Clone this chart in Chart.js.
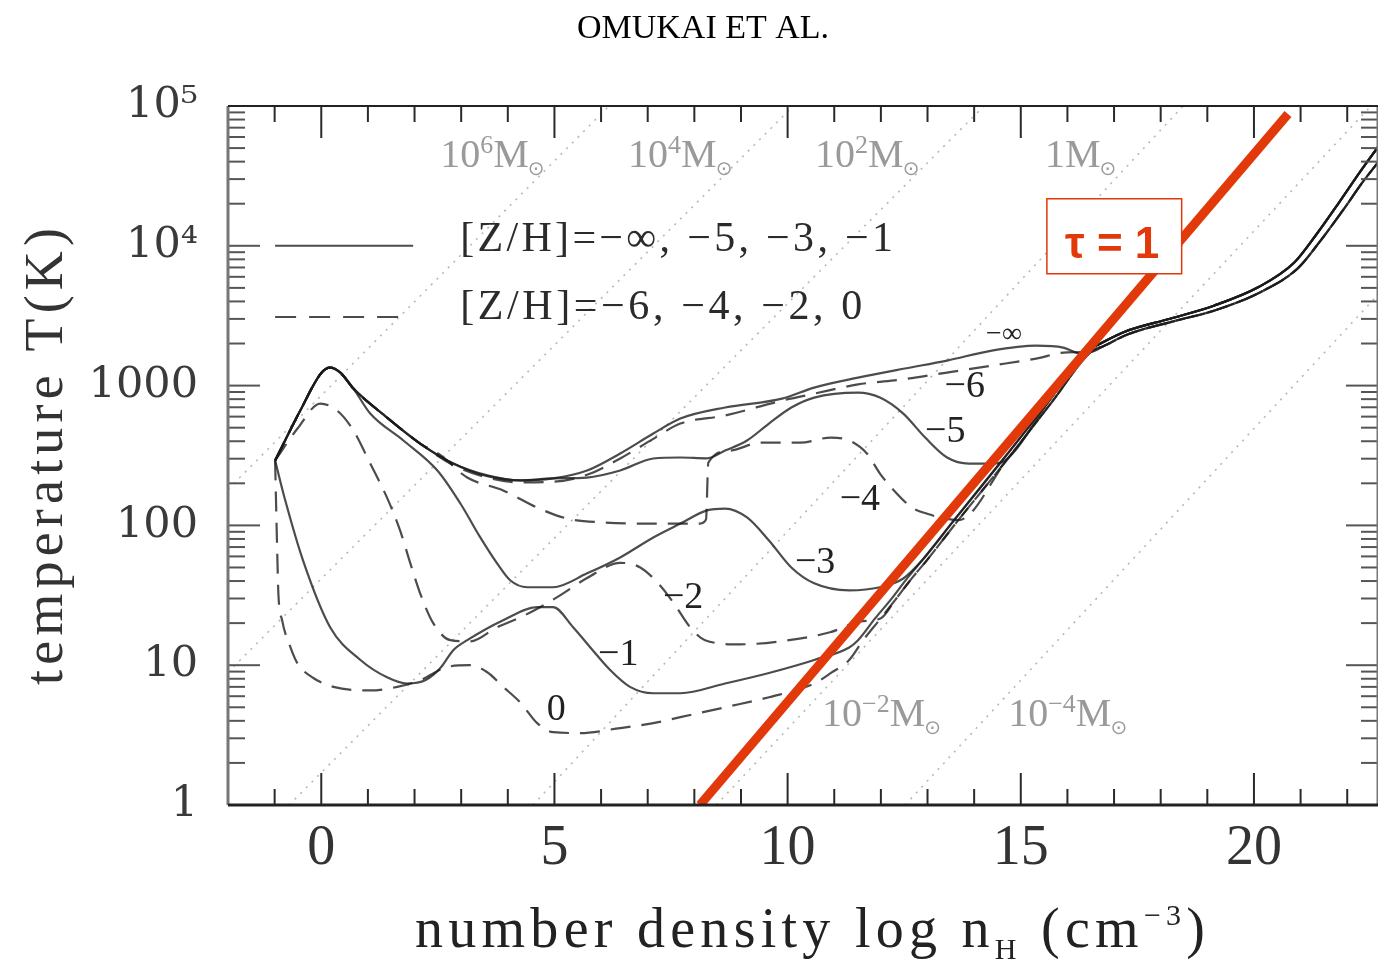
<!DOCTYPE html>
<html>
<head>
<meta charset="utf-8">
<script src="https://cdn.jsdelivr.net/npm/chart.js@4"></script>
<style>
  html, body { margin: 0; padding: 0; background: #fff; }
</style>
</head>
<body>
<canvas id="theChart" width="1378" height="964"></canvas>
<script>
'use strict';

// values: x = log nH (cm^-3), y = T (K)

let xTickValues = [0, 5, 10, 15, 20];
let yTickValues = [1, 10, 100, 1000, 1e4, 1e5];
let yTickLabels = ['1', '10', '100', '1000', '10⁴', '10⁵'];

// metallicity tracks [log nH, T] up to where they fall onto the adiabatic band
let zNegInf = [[-0.99, 291], [-0.45, 663], [0.0, 1230], [0.19, 1345], [0.41, 1240], [0.69, 952], [1.41, 591], [2.12, 385], [2.83, 277], [3.56, 228], [4.27, 210], [4.97, 217], [5.70, 247], [6.41, 327], [7.12, 454], [7.70, 581], [8.66, 697], [9.88, 807], [10.57, 968], [11.51, 1140], [12.48, 1320], [13.42, 1510], [14.38, 1780], [15.33, 1930], [15.91, 1870], [16.29, 1690]];
let zNeg6 = [[-0.99, 291], [-0.45, 663], [0.0, 1230], [0.19, 1345], [0.41, 1240], [0.69, 952], [1.41, 591], [2.12, 385], [2.83, 270], [3.56, 220], [4.27, 203], [4.97, 205], [5.70, 230], [6.41, 301], [7.12, 416], [7.70, 535], [8.66, 611], [9.88, 781], [10.57, 876], [11.51, 1020], [12.48, 1110], [13.42, 1240], [14.38, 1390], [15.33, 1560], [15.99, 1730]];
let zNeg5 = [[-0.99, 291], [-0.45, 663], [0.0, 1230], [0.19, 1345], [0.41, 1240], [0.69, 952], [1.41, 591], [2.12, 385], [2.83, 277], [3.56, 225], [4.27, 210], [4.97, 217], [5.70, 220], [6.41, 247], [7.12, 301], [7.70, 306], [8.27, 302], [8.66, 343], [9.13, 405], [9.60, 535], [10.08, 697], [10.57, 821], [11.51, 891], [11.98, 821], [12.48, 631], [12.95, 425], [13.42, 306], [13.89, 277], [14.38, 277], [14.66, 291]];
let zNeg4 = [[-0.99, 291], [-0.45, 663], [0.0, 1230], [0.19, 1345], [0.41, 1240], [0.69, 952], [1.41, 591], [2.12, 385], [2.55, 320], [3.13, 220], [3.90, 178], [4.63, 134], [5.27, 112], [6.05, 105], [7.12, 103], [8.12, 103], [8.25, 110], [8.30, 281], [8.77, 343], [9.41, 391], [10.27, 391], [10.93, 425], [11.32, 405], [11.70, 327], [11.98, 235], [12.28, 178], [12.67, 134], [13.03, 120], [13.27, 114]];
let zNeg3 = [[-0.99, 291], [-0.45, 663], [0.0, 1230], [0.19, 1345], [0.41, 1240], [0.69, 952], [1.05, 631], [1.76, 405], [2.49, 247], [2.98, 144], [3.41, 82], [3.77, 53.5], [4.05, 40.5], [4.42, 36.1], [4.97, 36.1], [5.70, 45.4], [6.41, 59], [7.12, 82], [7.70, 103], [8.27, 128], [8.66, 132], [9.13, 114], [9.60, 78], [10.08, 50], [10.57, 38.5], [11.32, 34.3], [11.98, 36.1], [12.48, 41.7]];
let zNeg2 = [[-0.99, 291], [-0.51, 493], [-0.02, 744], [0.34, 663], [0.69, 477], [1.05, 277], [1.41, 158], [1.69, 92], [1.91, 53.5], [2.12, 32.7], [2.40, 20], [2.77, 15.1], [3.19, 14.8], [3.77, 18.7], [4.27, 22], [4.69, 26], [5.12, 31.6], [5.70, 42], [6.41, 54], [6.84, 50], [7.27, 37], [7.59, 26.8], [7.91, 18.7], [8.23, 15.1], [8.98, 14.1], [9.84, 14.8], [10.91, 17.2], [11.55, 20.5]];
let zNeg1 = [[-0.99, 291], [-0.77, 150], [-0.39, 56], [0.19, 18.7], [0.84, 10.9], [1.41, 8.2], [1.84, 7.4], [2.23, 7.8], [2.55, 9.5], [2.83, 12.8], [3.13, 15.1], [3.90, 21], [4.63, 26], [4.97, 26], [5.40, 18.7], [5.77, 13.4], [6.20, 9.2], [6.62, 7.0], [7.12, 6.3], [7.70, 6.3], [8.66, 7.4], [9.60, 8.8], [10.57, 10.9], [11.32, 13.4]];
let zZero = [[-0.99, 291], [-0.94, 56], [-0.92, 32.7], [-0.84, 21], [-0.66, 13.4], [-0.51, 10.3], [-0.17, 8.1], [0.26, 7.0], [1.05, 6.6], [1.63, 7.0], [2.12, 7.8], [2.70, 9.7], [3.19, 10], [3.56, 8.9], [3.90, 7.0], [4.27, 5.4], [4.63, 3.85], [4.97, 3.32], [5.55, 3.27], [6.41, 3.55], [7.12, 3.85], [7.70, 4.25], [8.66, 5.0], [9.60, 5.9], [10.57, 7.4], [10.93, 8.8], [11.32, 10.9]];

// the common high density band (two strands, solid and dashed tracks)
let bandSolidX = [11.51, 11.88, 12.20, 12.58, 12.88, 13.57, 14.60, 15.61, 16.42, 16.70, 17.23, 18.20, 19.14, 20.11, 20.86, 21.35, 21.82, 22.29, 22.66];
let bandSolidT = [15.1, 21.7, 29.1, 42.5, 56, 109, 291, 781, 1780, 1995, 2430, 3010, 3730, 5090, 7560, 12200, 20300, 34300, 50900];
let bandDashX = [11.62, 12.00, 12.30, 12.68, 12.98, 13.66, 14.69, 15.69, 16.50, 16.78, 17.30, 18.27, 19.22, 20.19, 20.94, 21.42, 21.89, 22.33, 22.66];
let bandDashT = [15.1, 21.7, 29.1, 42.5, 56, 109, 291, 781, 1740, 1920, 2330, 2880, 3500, 4750, 6900, 10800, 17600, 28500, 39500];

// constant Jeans mass lines (dotted), exponent of M/Msun
let jeansExp = ['6', '4', '2', '0', '−2', '−4'];
let jeansFrom = [[-2, 181], [-2, 8.9], [-0.69, 1], [4.54, 1], [8.47, 1], [12.52, 1]];
let jeansTo = [[6.17, 1e5], [10.12, 1e5], [14.21, 1e5], [18.48, 1e5], [22.51, 1e5], [22.66, 4470]];

// tau = 1 line
let tauLine = [[8.12, 1], [20.73, 87700]];

//function logic

const serif = "'Liberation Serif', 'DejaVu Serif', serif";
const inkColor = 'rgba(25,25,25,0.78)';
const red = '#e2390b';

function pairs(list) {
  return list.map(p => ({x: p[0], y: p[1]}));
}

function joinBand(points, bandX, bandT) {
  let data = pairs(points);
  let lastX = points[points.length - 1][0];
  for (let i = 0; i < bandX.length; i++) {
    if (bandX[i] > lastX + 0.1) data.push({x: bandX[i], y: bandT[i]});
  }
  return data;
}

function at(chart, x, T) {
  return [chart.scales.x.getPixelForValue(x), chart.scales.y.getPixelForValue(T)];
}

function line(ctx, x1, y1, x2, y2) {
  ctx.beginPath();
  ctx.moveTo(x1, y1);
  ctx.lineTo(x2, y2);
  ctx.stroke();
}

// draws text pieces [text, size, dy] letter by letter, spread to a given width
function spacedText(ctx, parts, x, y, width) {
  let natural = 0, count = 0;
  parts.forEach(p => {
    ctx.font = p[1] + 'px ' + serif;
    for (const ch of p[0]) { natural += ctx.measureText(ch).width; count++; }
  });
  let gap = (width - natural) / (count - 1);
  let cx = x;
  ctx.textAlign = 'left';
  ctx.textBaseline = 'alphabetic';
  parts.forEach(p => {
    ctx.font = p[1] + 'px ' + serif;
    for (const ch of p[0]) {
      ctx.fillText(ch, cx, y + p[2]);
      cx += ctx.measureText(ch).width + gap;
    }
  });
}

function drawFrame(chart) {
  let ctx = chart.ctx;
  let a = chart.chartArea;
  let xs = chart.scales.x, ys = chart.scales.y;
  ctx.save();
  ctx.strokeStyle = '#2a2a2a';
  ctx.lineWidth = 2;
  for (let v = -1; v <= 22; v++) {
    let px = xs.getPixelForValue(v);
    let len = v % 5 === 0 ? 32 : 16;
    line(ctx, px, a.bottom, px, a.bottom - len);
    line(ctx, px, a.top, px, a.top + len);
  }
  ctx.strokeStyle = '#555';
  for (let d = 0; d < 5; d++) {
    for (let k = 1; k < 10; k++) {
      let py = ys.getPixelForValue(k * Math.pow(10, d));
      let len = k === 1 ? 32 : 17;
      line(ctx, a.left, py, a.left + len, py);
      line(ctx, a.right, py, a.right - len, py);
    }
  }
  ctx.strokeStyle = '#777';
  ctx.lineWidth = 3;
  line(ctx, a.left, a.top, a.left, a.bottom);
  line(ctx, a.right, a.top, a.right, a.bottom);
  ctx.strokeStyle = '#222';
  ctx.lineWidth = 2;
  line(ctx, a.left, a.top, a.right, a.top);
  ctx.lineWidth = 3;
  line(ctx, a.left, a.bottom, a.right, a.bottom);
  ctx.restore();
}

function drawLegend(chart) {
  let ctx = chart.ctx;
  ctx.save();
  ctx.strokeStyle = inkColor;
  ctx.lineWidth = 2;
  let s0 = at(chart, -0.99, 1e4), s1 = at(chart, 1.97, 1e4);
  line(ctx, s0[0], s0[1], s1[0], s1[1]);
  ctx.setLineDash([21, 13]);
  let d0 = at(chart, -0.99, 3100), d1 = at(chart, 1.74, 3100);
  line(ctx, d0[0], d0[1], d1[0], d1[1]);
  ctx.setLineDash([]);
  ctx.fillStyle = '#2b2b2b';
  let r1 = at(chart, 2.98, 9200), r1e = at(chart, 12.26, 9200);
  spacedText(ctx, [['[Z/H]=−∞, −5, −3, −1', 42, 0]], r1[0], r1[1], r1e[0] - r1[0]);
  let r2 = at(chart, 2.98, 3000), r2e = at(chart, 11.60, 3000);
  spacedText(ctx, [['[Z/H]=−6, −4, −2, 0', 42, 0]], r2[0], r2[1], r2e[0] - r2[0]);
  ctx.restore();
}

function drawCurveLabels(chart) {
  let ctx = chart.ctx;
  let texts = ['−∞', '−6', '−5', '−4', '−3', '−2', '−1', '0'];
  let where = [[14.64, 2315], [13.80, 984], [13.38, 469], [11.55, 151], [10.59, 53.5], [7.76, 30.1], [6.37, 11.8], [5.04, 4.77]];
  ctx.save();
  ctx.fillStyle = '#222';
  ctx.textAlign = 'center';
  ctx.textBaseline = 'middle';
  texts.forEach((t, i) => {
    let p = at(chart, where[i][0], where[i][1]);
    ctx.font = (i === 0 ? 28 : 38) + 'px ' + serif;
    ctx.fillText(t, p[0], p[1]);
  });
  ctx.restore();
}

function drawMassLabels(chart) {
  let ctx = chart.ctx;
  let where = [[2.55, 36700], [6.58, 36700], [10.59, 36700], [15.52, 36700], [10.74, 3.67], [14.73, 3.67]];
  ctx.save();
  ctx.fillStyle = '#9a9a9a';
  ctx.textAlign = 'left';
  ctx.textBaseline = 'alphabetic';
  jeansExp.forEach((e, i) => {
    let p = at(chart, where[i][0], where[i][1]);
    let cx = p[0];
    ctx.font = '40px ' + serif;
    let base = e === '0' ? '1' : '10';
    ctx.fillText(base, cx, p[1]);
    cx += ctx.measureText(base).width;
    if (e !== '0') {
      ctx.font = '26px ' + serif;
      ctx.fillText(e, cx, p[1] - 14);
      cx += ctx.measureText(e).width;
    }
    ctx.font = '40px ' + serif;
    ctx.fillText('M', cx, p[1]);
    cx += ctx.measureText('M').width;
    ctx.font = "20px 'DejaVu Sans', sans-serif";
    ctx.fillText('⊙', cx - 1, p[1] + 8);
  });
  ctx.restore();
}

function drawTauBox(chart) {
  let ctx = chart.ctx;
  let tl = at(chart, 15.56, 21700), br = at(chart, 18.45, 6310);
  ctx.save();
  ctx.fillStyle = '#fff';
  ctx.fillRect(tl[0], tl[1], br[0] - tl[0], br[1] - tl[1]);
  ctx.strokeStyle = red;
  ctx.lineWidth = 1.5;
  ctx.strokeRect(tl[0], tl[1], br[0] - tl[0], br[1] - tl[1]);
  let c = at(chart, 16.96, 8490);
  ctx.fillStyle = red;
  ctx.font = "bold 44px 'Liberation Sans', Arial, sans-serif";
  ctx.textAlign = 'center';
  ctx.textBaseline = 'alphabetic';
  ctx.fillText('τ = 1', c[0], c[1] + 2);
  ctx.restore();
}

function drawTitles(chart) {
  let ctx = chart.ctx;
  ctx.save();
  ctx.fillStyle = '#000';
  ctx.font = '34px ' + serif;
  ctx.textAlign = 'center';
  ctx.textBaseline = 'alphabetic';
  ctx.fillText('OMUKAI ET AL.', 703, 38);

  ctx.fillStyle = '#222';
  spacedText(ctx, [['number density log n', 56, 0], ['H', 30, 12], [' (cm', 56, 0], ['−3', 30, -22], [')', 56, 0]], 415, 947, 790);

  ctx.translate(62, 685);
  ctx.rotate(-Math.PI / 2);
  ctx.fillStyle = '#333';
  spacedText(ctx, [['temperature T(K)', 54, 0]], 0, 0, 457);
  ctx.restore();
}

const paperPlugin = {
  id: 'paper',
  beforeDraw(chart) {
    let ctx = chart.ctx;
    ctx.save();
    ctx.fillStyle = '#fff';
    ctx.fillRect(0, 0, chart.width, chart.height);
    ctx.restore();
  },
  afterDatasetsDraw(chart) {
    drawFrame(chart);
    drawMassLabels(chart);
    drawLegend(chart);
    drawCurveLabels(chart);
    drawTauBox(chart);
  },
  afterDraw(chart) {
    drawTitles(chart);
  }
};

//executable code

let tracks = [[zNegInf, false], [zNeg6, true], [zNeg5, false], [zNeg4, true], [zNeg3, false], [zNeg2, true], [zNeg1, false], [zZero, true]];

let datasets = [];
for (let i = 0; i < jeansFrom.length; i++) {
  datasets.push({
    data: pairs([jeansFrom[i], jeansTo[i]]),
    borderColor: '#b8b8b8',
    borderWidth: 1.6,
    borderDash: [2, 6],
    pointRadius: 0,
    tension: 0,
    order: 3
  });
}
for (let i = 0; i < tracks.length; i++) {
  let dashed = tracks[i][1];
  datasets.push({
    data: joinBand(tracks[i][0], dashed ? bandDashX : bandSolidX, dashed ? bandDashT : bandSolidT),
    borderColor: inkColor,
    borderWidth: 2.2,
    borderDash: dashed ? [20, 11] : [],
    pointRadius: 0,
    cubicInterpolationMode: 'monotone',
    order: 2
  });
}
datasets.push({
  data: pairs(tauLine),
  borderColor: red,
  borderWidth: 9,
  pointRadius: 0,
  tension: 0,
  order: 1
});

const config = {
  type: 'line',
  data: { datasets: datasets },
  options: {
    responsive: false,
    animation: false,
    devicePixelRatio: 1,
    layout: { padding: { top: 106, left: 0, right: 0, bottom: 0 } },
    plugins: { legend: { display: false }, tooltip: { enabled: false } },
    scales: {
      x: {
        type: 'linear',
        min: -2,
        max: 22.66,
        afterBuildTicks: (axis) => { axis.ticks = xTickValues.map(v => ({value: v})); },
        afterFit: (axis) => { axis.height = 159; },
        grid: { display: false, drawTicks: false },
        border: { display: false },
        ticks: {
          autoSkip: false,
          maxRotation: 0,
          padding: 11,
          color: '#333',
          font: { family: "'Liberation Serif'", size: 56 }
        }
      },
      y: {
        type: 'logarithmic',
        min: 1,
        max: 1e5,
        afterBuildTicks: (axis) => { axis.ticks = yTickValues.map(v => ({value: v})); },
        afterFit: (axis) => { axis.width = 228; },
        grid: { display: false, drawTicks: false },
        border: { display: false },
        ticks: {
          autoSkip: false,
          padding: 30,
          color: '#3a3a3a',
          font: { family: "'DejaVu Serif'", size: 43 },
          callback: (v) => yTickLabels[Math.round(Math.log10(v))]
        }
      }
    }
  },
  plugins: [paperPlugin]
};

new Chart(document.getElementById('theChart'), config);
</script>
</body>
</html>
